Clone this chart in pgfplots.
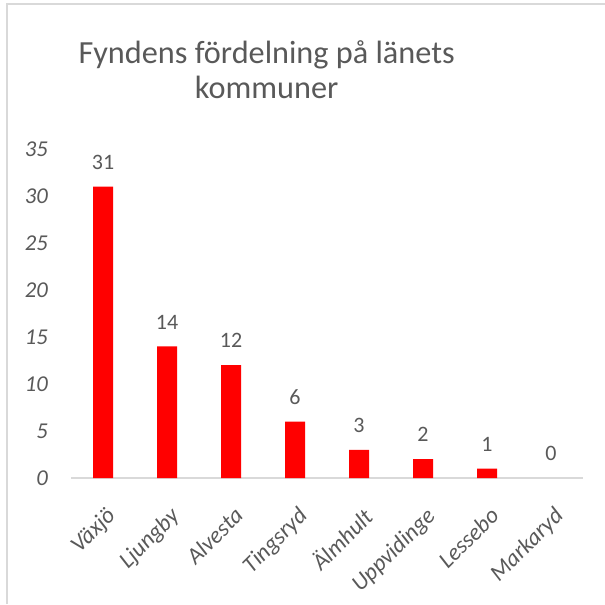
\documentclass[border=0pt]{standalone}
\usepackage{fontspec}
\setmainfont{Carlito}
\usepackage{pgfplots}
\pgfplotsset{compat=1.18}
\definecolor{txt}{HTML}{595959}
\definecolor{ln}{HTML}{D9D9D9}
\begin{document}
\begin{tikzpicture}
\useasboundingbox (0,0) rectangle (453.75pt,453pt);
\draw[ln, line width=1.5pt] (5.25pt,0pt) -- (5.25pt,450pt) -- (453.75pt,450pt);
\node[anchor=base, text=txt, font=\fontsize{24.2pt}{29pt}\selectfont, inner sep=0pt] at (200pt,405pt) {Fyndens fördelning på länets};
\node[anchor=base, text=txt, font=\fontsize{24.2pt}{29pt}\selectfont, inner sep=0pt] at (200pt,379pt) {kommuner};
\begin{axis}[
  at={(53.25pt,94.5pt)}, anchor=south west,
  scale only axis, width=384pt, height=246.75pt,
  xmin=-0.5, xmax=7.5, ymin=0, ymax=35,
  ytick={0,5,...,35},
  xtick={0,...,7},
  xticklabels={Växjö,Ljungby,Alvesta,Tingsryd,Älmhult,Uppvidinge,Lessebo,Markaryd},
  axis x line=bottom, axis y line=left,
  x axis line style={-, draw=ln, line width=1pt},
  y axis line style={draw=none},
  tick style={draw=none},
  /pgf/number format/assume math mode=true,
  yticklabel style={font=\fontsize{17pt}{20pt}\selectfont\itshape, text=txt, inner sep=0pt, anchor=east, xshift=-15pt},
  xticklabel style={font=\fontsize{17.5pt}{21pt}\selectfont\itshape, text=txt, inner sep=0pt, rotate=45, anchor=north east, xshift=-12pt, yshift=-14pt},
  clip=false,
]
\addplot[ybar, bar width=15pt, fill=red, draw=none,
  nodes near coords,
  every node near coord/.append style={font=\fontsize{16.5pt}{19pt}\selectfont, text=txt, anchor=base, inner sep=0pt, yshift=13pt},
] coordinates {(0,31) (1,14) (2,12) (3,6) (4,3) (5,2) (6,1)};
\addplot[ybar, bar width=15pt, fill=none, draw=none,
  nodes near coords,
  every node near coord/.append style={font=\fontsize{16.5pt}{19pt}\selectfont, text=txt, anchor=base, inner sep=0pt, yshift=13pt},
] coordinates {(7,0)};
\end{axis}
\end{tikzpicture}
\end{document}
